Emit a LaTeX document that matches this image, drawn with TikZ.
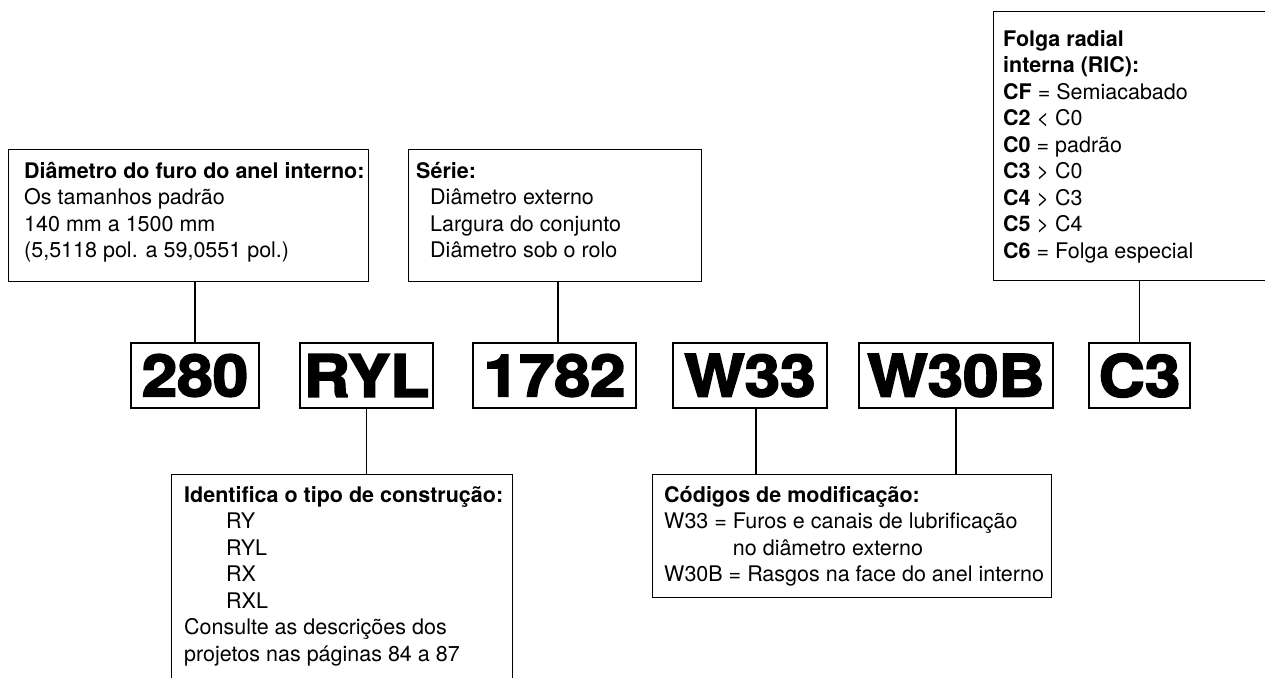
\documentclass[tikz,border=0pt]{standalone}
\usepackage{fontspec}
\setmainfont{TeX Gyre Heros}
\newfontfamily\codefont[Extension=.otf,FakeBold=3,FakeStretch=1.1]{texgyreheros-bold}
\begin{document}
\begin{tikzpicture}[x=1pt,y=-1pt,
  box/.style={draw,line width=1.3pt,inner sep=0,anchor=north west},
  txt/.style={inner sep=0,anchor=north west,align=left,font=\fontsize{21.5}{26.5}\selectfont},
  code/.style={draw,line width=1.3pt,minimum height=65,inner sep=0,font=\codefont\fontsize{58}{58}\selectfont},
  link/.style={line width=1.3pt}]
\useasboundingbox (0,0) rectangle (1265,677);
\clip (0,0) rectangle (1265,677);
\node[box,minimum width=360,minimum height=132] (diam) at (8,149) {};
\node[box,minimum width=293,minimum height=132] (serie) at (408,149) {};
\node[box,minimum width=341,minimum height=240] (tipo) at (171,474) {};
\node[box,minimum width=399,minimum height=123] (modif) at (652,474) {};
\node[box,minimum width=320,minimum height=269] (folga) at (993,11) {};
\node[txt] (diamtxt) at (24,162) {\textbf{Diâmetro do furo do anel interno:}\\Os tamanhos padrão\\140 mm a 1500 mm\\(5,5118 pol. a 59,0551 pol.)};
\node[txt] (serietxt) at (416,162) {\textbf{Série:}\\\hspace*{14pt}Diâmetro externo\\\hspace*{14pt}Largura do conjunto\\\hspace*{14pt}Diâmetro sob o rolo};
\node[txt] (tipotxt) at (184,486) {\textbf{Identifica o tipo de construção:}\\\hspace*{42pt}RY\\\hspace*{42pt}RYL\\\hspace*{42pt}RX\\\hspace*{42pt}RXL\\Consulte as descrições dos\\projetos nas páginas 84 a 87};
\node[txt] (modiftxt) at (664,486) {\textbf{Códigos de modificação:}\\W33 = Furos e canais de lubrificação\\\phantom{W33 = }no diâmetro externo\\W30B = Rasgos na face do anel interno};
\node[txt] (folgatxt) at (1003,30) {\textbf{Folga radial}\\\textbf{interna (RIC):}\\\textbf{CF} = Semiacabado\\\textbf{C2} < C0\\\textbf{C0} = padrão\\\textbf{C3} > C0\\\textbf{C4} > C3\\\textbf{C5} > C4\\\textbf{C6} = Folga especial};
\node[code,minimum width=128] (c280) at (195,375.5) {280};
\node[code,minimum width=133] (cRYL) at (366.5,375.5) {RYL};
\node[code,minimum width=163] (c1782) at (554.5,375.5) {1782};
\node[code,minimum width=154] (cW33) at (750,375.5) {W33};
\node[code,minimum width=194] (cW30B) at (956,375.5) {W30B};
\node[code,minimum width=101] (cC3) at (1139.5,375.5) {C3};
\draw[link] (c280.north) -- (c280.north |- diam.south);
\draw[link] ([xshift=3.5]c1782.north) -- ([xshift=3.5]c1782.north |- serie.south);
\draw[link] (cC3.north) -- (cC3.north |- folga.south);
\draw[link] (cRYL.south) -- (cRYL.south |- tipo.north);
\draw[link] ([xshift=6]cW33.south) -- ([xshift=6]cW33.south |- modif.north);
\draw[link] (cW30B.south) -- (cW30B.south |- modif.north);
\end{tikzpicture}
\end{document}
